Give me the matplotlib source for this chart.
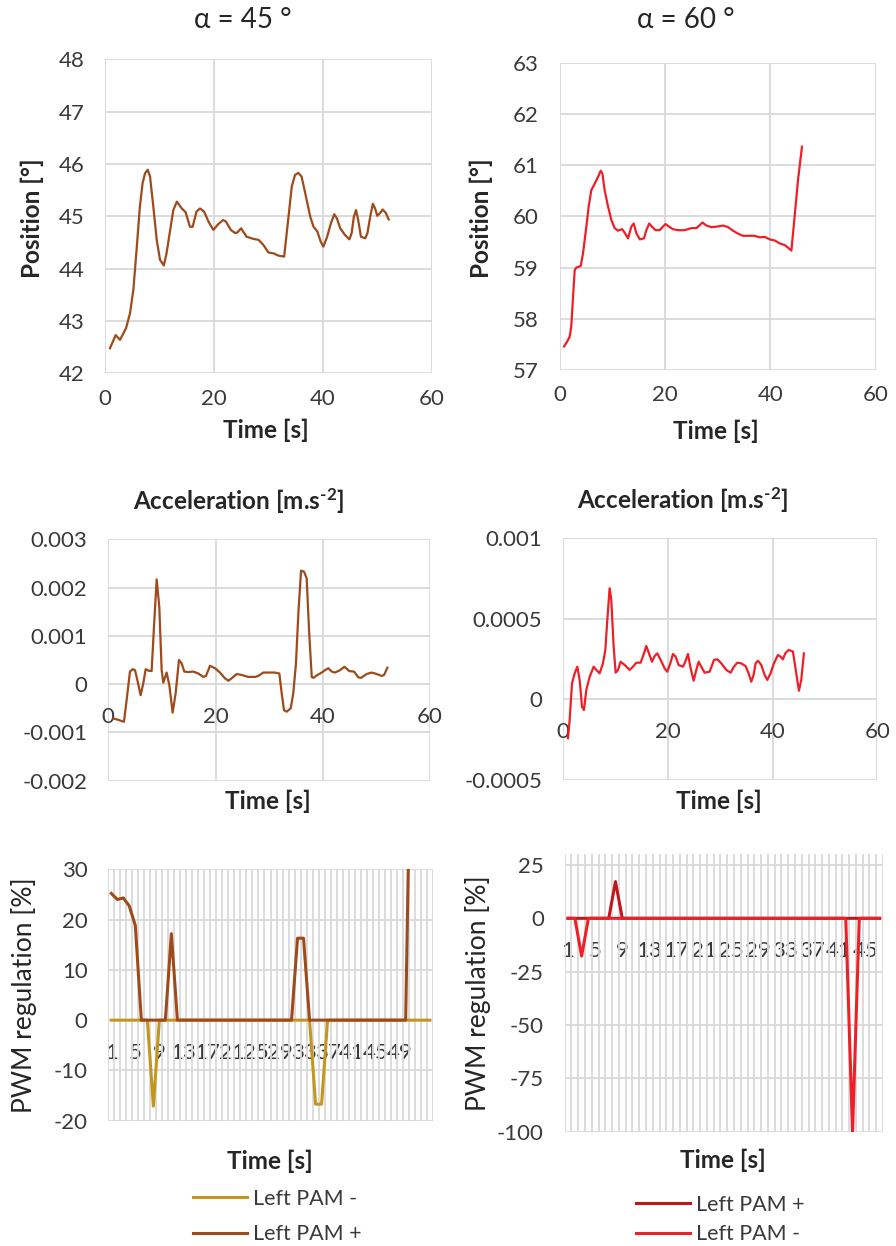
import matplotlib
matplotlib.use("Agg")
import matplotlib.pyplot as plt
import numpy as np

plt.rcParams['font.family'] = ['Lato', 'DejaVu Sans']
plt.rcParams['mathtext.fontset'] = 'custom'
plt.rcParams['mathtext.rm'] = 'Lato'
plt.rcParams['mathtext.bf'] = 'Lato:bold'
plt.rcParams['mathtext.it'] = 'Lato:italic'
plt.rcParams['axes.unicode_minus'] = False

# ---------------- data ----------------
pos45_t = [0.92, 1.96, 2.76, 3.86, 4.6, 5.2, 5.8, 6.4, 6.9, 7.35, 7.84, 8.27, 8.88, 9.5, 10.1, 10.8,
           11.3, 12.06, 12.55, 13.2, 14.1, 14.8, 15.6, 16.1, 16.8, 17.45, 18.2, 19.0, 19.9, 20.8,
           21.7, 22.2, 23.1, 23.9, 24.3, 25.0, 26.0, 27.2, 28.2, 29.1, 30.0, 31.0, 31.8, 32.9,
           33.7, 34.3, 34.9, 35.5, 36.1, 36.9, 37.7, 38.3, 39.0, 39.6, 40.1, 40.8, 41.5, 42.1,
           42.6, 43.2, 44.1, 44.9, 45.3, 45.7, 46.1, 46.5, 47.0, 47.8, 48.2, 48.7, 49.2, 49.6,
           50.0, 50.5, 51.0, 51.6, 52.1]
pos45_v = [42.48, 42.73, 42.64, 42.86, 43.15, 43.59, 44.36, 45.18, 45.63, 45.82, 45.89, 45.76, 45.18,
           44.55, 44.17, 44.06, 44.29, 44.80, 45.12, 45.28, 45.15, 45.08, 44.80, 44.80, 45.09, 45.15,
           45.09, 44.90, 44.74, 44.85, 44.93, 44.90, 44.74, 44.68, 44.69, 44.77, 44.61, 44.57, 44.55,
           44.45, 44.31, 44.29, 44.25, 44.23, 44.99, 45.57, 45.79, 45.83, 45.76, 45.38, 44.99, 44.80,
           44.71, 44.52, 44.42, 44.61, 44.87, 45.04, 44.96, 44.77, 44.64, 44.56, 44.68, 44.99, 45.12,
           44.93, 44.61, 44.58, 44.68, 44.99, 45.24, 45.15, 45.01, 45.06, 45.13, 45.06, 44.94]

pos60_t = [0.82, 1.39, 1.9, 2.2, 2.5, 2.85, 3.16, 3.99, 4.43, 5.06, 5.5, 6.0, 6.65, 7.28, 7.78, 8.1,
           8.54, 9.05, 9.8, 10.44, 11.08, 11.84, 12.34, 12.97, 13.6, 14.05, 14.56, 15.2, 16.0, 16.45,
           17.0, 17.5, 18.2, 19.0, 19.6, 20.1, 20.6, 21.5, 22.5, 23.7, 25.0, 25.95, 26.6, 27.1,
           27.85, 28.8, 29.9, 31.0, 31.96, 32.9, 33.9, 34.8, 35.8, 37.0, 38.0, 38.9, 39.9, 40.8,
           41.8, 42.7, 43.35, 43.99, 44.6, 45.25, 46.0]
pos60_v = [57.46, 57.55, 57.65, 57.85, 58.37, 58.95, 59.00, 59.03, 59.28, 59.80, 60.19, 60.51, 60.64,
           60.77, 60.89, 60.84, 60.51, 60.25, 59.93, 59.77, 59.72, 59.75, 59.68, 59.57, 59.80, 59.86,
           59.67, 59.55, 59.57, 59.73, 59.86, 59.80, 59.73, 59.73, 59.80, 59.85, 59.81, 59.75, 59.73,
           59.73, 59.77, 59.77, 59.83, 59.88, 59.82, 59.79, 59.80, 59.82, 59.79, 59.72, 59.66, 59.62,
           59.62, 59.62, 59.59, 59.60, 59.55, 59.53, 59.47, 59.44, 59.39, 59.33, 59.99, 60.71, 61.36]

acc45_t = [0.93, 1.87, 2.92, 3.42, 4.04, 4.54, 4.98, 5.41, 6.03, 6.53, 6.97, 7.46, 8.08, 8.52, 9.02,
           9.51, 9.95, 10.26, 10.88, 11.38, 12.0, 12.56, 13.18, 13.68, 14.18, 14.93, 15.86, 16.79,
           17.72, 18.22, 18.97, 19.9, 20.83, 21.77, 22.39, 23.0, 23.94, 24.88, 26.1, 27.36, 27.99,
           28.9, 30.16, 31.1, 31.9, 32.34, 32.77, 33.27, 34.02, 34.5, 35.0, 35.45, 35.95, 36.5,
           37.0, 37.44, 37.94, 38.25, 38.87, 39.8, 40.42, 41.04, 41.67, 42.29, 43.22, 44.03, 44.96,
           45.83, 46.64, 47.14, 48.2, 49.13, 50.06, 50.99, 51.43, 52.05]
acc45_v = [-0.00071, -0.00074, -0.00078, -0.00033, 0.00026, 0.00031, 0.00029, 0.00009, -0.00023,
           0.00002, 0.00031, 0.00028, 0.00027, 0.00119, 0.00217, 0.00160, 0.00029, 0.00003, 0.00024,
           -0.00002, -0.00059, -0.00019, 0.00050, 0.00043, 0.00026, 0.00025, 0.00026, 0.00022,
           0.00015, 0.00017, 0.00038, 0.00033, 0.00024, 0.00012, 0.00007, 0.00012, 0.00021, 0.00019,
           0.00015, 0.00015, 0.00017, 0.00024, 0.00024, 0.00024, 0.00022, -0.00019, -0.00054,
           -0.00057, -0.00050, -0.00019, 0.00043, 0.00147, 0.00235, 0.00233, 0.00219, 0.00112,
           0.00015, 0.00013, 0.00018, 0.00024, 0.00029, 0.00033, 0.00026, 0.00024, 0.00029, 0.00036,
           0.00027, 0.00026, 0.00014, 0.00013, 0.00021, 0.00024, 0.00021, 0.00017, 0.00019, 0.00034]

acc60_t = [0.95, 1.27, 1.72, 2.23, 2.74, 3.18, 3.63, 4.0, 4.45, 5.09, 5.85, 6.36, 6.99, 7.63, 8.08,
           8.46, 8.9, 9.22, 9.67, 10.05, 10.5, 11.0, 11.77, 12.72, 13.36, 13.99, 14.82, 15.46, 15.9,
           16.41, 16.98, 17.49, 18.0, 18.64, 19.4, 19.91, 20.48, 20.99, 21.5, 22.07, 22.9, 23.35,
           23.86, 24.3, 24.94, 25.45, 25.89, 26.4, 27.04, 27.99, 28.82, 29.45, 30.22, 31.17, 32.0,
           32.63, 33.27, 34.03, 34.86, 35.43, 35.94, 36.39, 36.77, 37.21, 37.85, 38.49, 38.99, 39.63,
           40.27, 41.03, 41.54, 41.98, 42.43, 43.07, 43.89, 44.34, 44.72, 45.04, 45.48, 45.99]
acc60_v = [-0.000241, -0.000128, 0.000100, 0.000162, 0.000203, 0.000120, -0.000045, -0.000066,
           0.000059, 0.000140, 0.000203, 0.000183, 0.000162, 0.000224, 0.000307, 0.000493, 0.000690,
           0.000617, 0.000327, 0.000166, 0.000183, 0.000234, 0.000214, 0.000183, 0.000203, 0.000228,
           0.000228, 0.000286, 0.000332, 0.000286, 0.000234, 0.000269, 0.000286, 0.000245, 0.000193,
           0.000172, 0.000224, 0.000282, 0.000265, 0.000214, 0.000203, 0.000234, 0.000282, 0.000203,
           0.000116, 0.000183, 0.000234, 0.000203, 0.000166, 0.000172, 0.000245, 0.000249, 0.000224,
           0.000183, 0.000166, 0.000203, 0.000228, 0.000224, 0.000207, 0.000162, 0.000110, 0.000152,
           0.000224, 0.000240, 0.000214, 0.000152, 0.000121, 0.000162, 0.000224, 0.000276, 0.000265,
           0.000249, 0.000286, 0.000307, 0.000297, 0.000203, 0.000121, 0.000054, 0.000121, 0.000286]

# PWM regulation, category axis (sample index 1..N)
pwm45_minus = [0, 0, 0, 0, 0, 0, 0, -17.1, 0, 0,
               0, 0, 0, 0, 0, 0, 0, 0, 0, 0,
               0, 0, 0, 0, 0, 0, 0, 0, 0, 0,
               0, 0, 0, 0, -16.7, -16.7, 0, 0, 0, 0,
               0, 0, 0, 0, 0, 0, 0, 0, 0, 0,
               0, 0, 0, 0]
pwm45_plus = [25.2, 24.0, 24.3, 22.7, 18.8, 0, 0, 0, 0, 0,
              17.2, 0, 0, 0, 0, 0, 0, 0, 0, 0,
              0, 0, 0, 0, 0, 0, 0, 0, 0, 0,
              0, 16.3, 16.3, 0, 0, 0, 0, 0, 0, 0,
              0, 0, 0, 0, 0, 0, 0, 0, 0, 0,
              70]
pwm60_plus = [0, 0, 0, 0, 0, 0, 0, 17.2, 0, 0,
              0, 0, 0, 0, 0, 0, 0, 0, 0, 0,
              0, 0, 0, 0, 0, 0, 0, 0, 0, 0,
              0, 0, 0, 0, 0, 0, 0, 0, 0, 0,
              0, 0, 0, 0, 0, 0, 0]
pwm60_minus = [0, 0, -17.7, 0, 0, 0, 0, 0, 0, 0,
               0, 0, 0, 0, 0, 0, 0, 0, 0, 0,
               0, 0, 0, 0, 0, 0, 0, 0, 0, 0,
               0, 0, 0, 0, 0, 0, 0, 0, 0, 0,
               0, 0, -100, 0, 0, 0, 0]
pwm45_tick_labels = ['1', '5', '9', '13', '17', '21', '25', '29', '33', '37', '41', '45', '49']
pwm60_tick_labels = ['1', '5', '9', '13', '17', '21', '25', '29', '33', '37', '41', '45']

# ---------------- style ----------------
W, H = 896, 1246
BROWN = '#9E4A1A'
GOLD = '#C4961F'
RED = '#EE1F26'
DARKRED = '#C0161D'
GRID = '#D9D9D9'
TICKC = '#3A3A3A'
LABC = '#262626'
TICK_FS = 16
LAB_FS = 17.5
LEG_FS = 15.5

fig = plt.figure(figsize=(W / 100, H / 100), dpi=100)


def add_ax(x0, y0, x1, y1):
    return fig.add_axes([x0 / W, 1 - y1 / H, (x1 - x0) / W, (y1 - y0) / H])


def ftext(x, y, s, **kw):
    fig.text(x / W, 1 - y / H, s, ha='center', va='center', **kw)


def style(ax, xpad=11, ypad=15):
    for sp in ax.spines.values():
        sp.set_visible(False)
    ax.tick_params(length=0, labelsize=TICK_FS, colors=TICKC)
    ax.tick_params(axis='x', pad=xpad)
    ax.tick_params(axis='y', pad=ypad)
    ax.set_axisbelow(True)


def style_num(ax):
    ax.grid(True, color=GRID, lw=1.3)


# ---- Position 45
ax = add_ax(105, 59.3, 431.7, 373.3)
style(ax)
style_num(ax)
ax.plot(pos45_t, pos45_v, color=BROWN, lw=1.6)
ax.set_xlim(0, 60)
ax.set_ylim(42, 48)
ax.set_xticks([0, 20, 40, 60])
ax.set_yticks(range(42, 49))

# ---- Position 60
ax = add_ax(559.7, 62.7, 875.7, 370)
style(ax)
style_num(ax)
ax.plot(pos60_t, pos60_v, color=RED, lw=1.6)
ax.set_xlim(0, 60)
ax.set_ylim(57, 63)
ax.set_xticks([0, 20, 40, 60])
ax.set_yticks(range(57, 64))

# ---- Acceleration 45
ax = add_ax(108.3, 539.3, 430, 780.7)
style(ax, xpad=16.5)
style_num(ax)
ax.spines['bottom'].set_position(('data', 0))
ax.plot(acc45_t, acc45_v, color=BROWN, lw=1.6)
ax.set_xlim(0, 60)
ax.set_ylim(-0.002, 0.003)
ax.set_xticks([0, 20, 40, 60])
ax.set_yticks([-0.002, -0.001, 0, 0.001, 0.002, 0.003])
ax.set_yticklabels(['-0.002', '-0.001', '0', '0.001', '0.002', '0.003'])

# ---- Acceleration 60
ax = add_ax(563, 538.3, 877.3, 780)
style(ax, xpad=16.5)
style_num(ax)
ax.spines['bottom'].set_position(('data', 0))
ax.plot(acc60_t, acc60_v, color=RED, lw=1.6)
ax.set_xlim(0, 60)
ax.set_ylim(-0.0005, 0.001)
ax.set_xticks([0, 20, 40, 60])
ax.set_yticks([-0.0005, 0, 0.0005, 0.001])
ax.set_yticklabels(['-0.0005', '0', '0.0005', '0.001'])


def cat_axis(ax, n, labels):
    ax.set_xlim(-0.5, n - 0.5)
    ax.set_xticks(np.arange(-0.5, n, 1.0), minor=True)
    ax.set_xticks(np.arange(0, 4 * len(labels), 4))
    ax.set_xticklabels(labels)
    ax.grid(True, which='minor', axis='x', color=GRID, lw=1.3)
    ax.grid(True, which='major', axis='y', color=GRID, lw=1.3)
    ax.tick_params(which='minor', length=0)
    ax.spines['bottom'].set_position(('data', 0))


# ---- PWM 45
ax = add_ax(108.3, 869.3, 432.7, 1120.7)
style(ax, xpad=16.5)
cat_axis(ax, len(pwm45_minus), pwm45_tick_labels)
l1, = ax.plot(range(len(pwm45_minus)), pwm45_minus, color=GOLD, lw=2.2, label='Left PAM -')
l2, = ax.plot(range(len(pwm45_plus)), pwm45_plus, color=BROWN, lw=2.2, label='Left PAM +')
ax.set_ylim(-20, 30)
ax.set_yticks(range(-20, 31, 10))
fig.legend(handles=[l1, l2], loc='upper left', bbox_to_anchor=(193 / W, 1 - 1189 / H),
           frameon=False, fontsize=LEG_FS, handlelength=2.5, handletextpad=0.3,
           labelspacing=0.72, labelcolor=TICKC, borderpad=0, borderaxespad=0)

# ---- PWM 60
ax = add_ax(564.7, 854.3, 883, 1131.7)
style(ax, xpad=16.5)
cat_axis(ax, len(pwm60_plus), pwm60_tick_labels)
r1, = ax.plot(range(len(pwm60_plus)), pwm60_plus, color=DARKRED, lw=2.2, label='Left PAM +')
r2, = ax.plot(range(len(pwm60_minus)), pwm60_minus, color=RED, lw=2.2, label='Left PAM -')
ax.set_ylim(-100, 30)
ax.set_yticks(range(-100, 26, 25))
fig.legend(handles=[r1, r2], loc='upper left', bbox_to_anchor=(636 / W, 1 - 1195 / H),
           frameon=False, fontsize=LEG_FS, handlelength=2.5, handletextpad=0.3,
           labelspacing=0.42, labelcolor=TICKC, borderpad=0, borderaxespad=0)

# ---------------- texts ----------------
ftext(243, 20, 'α = 45 °', fontsize=20, color=LABC)
ftext(685.5, 20, 'α = 60 °', fontsize=20, color=LABC)
ftext(32, 218, 'Position [°]', fontsize=LAB_FS, fontweight='bold', rotation=90, color=LABC)
ftext(481, 218, 'Position [°]', fontsize=LAB_FS, fontweight='bold', rotation=90, color=LABC)
for x, y in [(266, 430), (715.5, 431), (267.5, 801.7), (718.8, 801.7), (270, 1161.7), (722.5, 1160)]:
    ftext(x, y, 'Time [s]', fontsize=LAB_FS, fontweight='bold', color=LABC)
ftext(238.3, 500.7, 'Acceleration [m.s$^{\\mathbf{\u20102}}$]', fontsize=LAB_FS, fontweight='bold', color=LABC)
ftext(682.2, 500, 'Acceleration [m.s$^{\\mathbf{\u20102}}$]', fontsize=LAB_FS, fontweight='bold', color=LABC)
ftext(24, 995, 'PWM regulation [%]', fontsize=19, rotation=90, color=LABC)
ftext(478, 993.3, 'PWM regulation [%]', fontsize=19, rotation=90, color=LABC)

fig.savefig('out.png', dpi=100)
